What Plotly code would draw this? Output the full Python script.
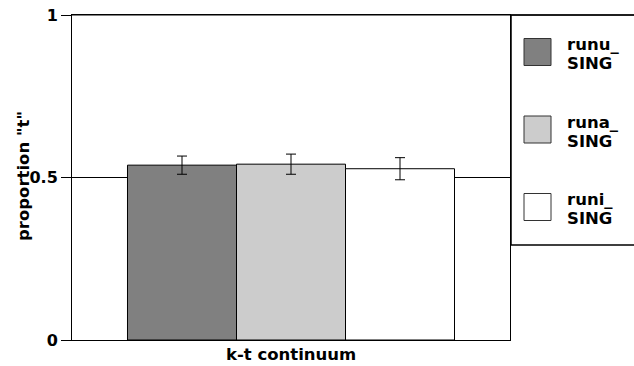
import plotly.graph_objects as go

categories = ["k-t continuum"]
series_names = ["runu_<br>SING", "runa_<br>SING", "runi_<br>SING"]
legend_line1 = ["runu_", "runa_", "runi_"]
legend_line2 = ["SING", "SING", "SING"]
series_values = [0.538, 0.541, 0.527]
series_errors = [0.028, 0.031, 0.034]
series_colors = ["#808080", "#cccccc", "#ffffff"]
y_tickvals = [0, 0.5, 1]
y_ticktext = ["0", "0.5", "1"]

W, H = 634, 366
ML, MR, MT, MB = 72, 124, 15, 26
PW = W - ML - MR
PH = H - MT - MB
FONT = "DejaVu Sans"
FS = 16.5

def px_x(x):
    return (x - ML) / PW

def px_y(y):
    return (H - MB - y) / PH

fig = go.Figure()
for name, v, e, c in zip(series_names, series_values, series_errors, series_colors):
    fig.add_trace(go.Bar(
        x=categories, y=[v], name=name,
        marker=dict(color=c, line=dict(color="#000000", width=1)),
        error_y=dict(type="data", array=[e], visible=True, color="#000000",
                     thickness=1, width=5),
        showlegend=False,
    ))

shapes = []
annotations = []
# legend box
shapes.append(dict(type="rect", xref="paper", yref="paper",
                   x0=px_x(511), x1=px_x(700), y0=px_y(245), y1=px_y(15),
                   line=dict(color="#000000", width=1.5), fillcolor="rgba(0,0,0,0)"))
for i in range(len(series_values)):
    cy = 52 + i * 77.5
    shapes.append(dict(type="rect", xref="paper", yref="paper",
                       x0=px_x(524), x1=px_x(551), y0=px_y(cy + 13.5), y1=px_y(cy - 13.5),
                       line=dict(color="#333333", width=1), fillcolor=series_colors[i]))
    for txt, base in ((legend_line1[i], cy - 1.5), (legend_line2[i], cy + 17.5)):
        annotations.append(dict(text="<b>%s</b>" % txt, xref="paper", yref="paper",
                                x=px_x(565), y=px_y(base - 0.36 * FS),
                                xanchor="left", yanchor="middle", showarrow=False,
                                font=dict(family=FONT, size=FS, color="#000000")))

# top line across to the right edge
shapes.append(dict(type="line", xref="paper", yref="paper",
                   x0=0, x1=px_x(700), y0=1, y1=1,
                   line=dict(color="#000000", width=1)))

annotations.append(dict(text="<b>k-t continuum</b>", xref="paper", yref="paper",
                        x=0.5, y=0, xanchor="center", yanchor="top", yshift=-3,
                        showarrow=False, font=dict(family=FONT, size=FS, color="#000000")))
annotations.append(dict(text='<b>proportion "t"</b>', xref="paper", yref="paper",
                        x=px_x(23), y=px_y(176), xanchor="center", yanchor="middle",
                        textangle=-90, showarrow=False,
                        font=dict(family=FONT, size=FS, color="#000000")))

fig.update_layout(
    width=W, height=H,
    margin=dict(l=ML, r=MR, t=MT, b=MB, pad=0, autoexpand=False),
    paper_bgcolor="#ffffff", plot_bgcolor="#ffffff",
    barmode="group", bargap=0.2534, bargroupgap=0,
    shapes=shapes, annotations=annotations,
    font=dict(family=FONT, size=FS, color="#000000"),
    xaxis=dict(showticklabels=False, ticks="", showgrid=False, zeroline=False,
               showline=True, linecolor="#000000", linewidth=1, mirror=True,
               fixedrange=True, automargin=False),
    yaxis=dict(range=[0, 1], tickvals=y_tickvals, ticktext=["<b>%s</b>" % t for t in y_ticktext],
               ticks="outside", ticklen=10, tickcolor="#000000", tickwidth=1,
               showgrid=True, gridcolor="#000000", gridwidth=1, zeroline=False,
               showline=True, linecolor="#000000", linewidth=1, mirror=True,
               tickfont=dict(family=FONT, size=16, color="#000000"), fixedrange=True,
               automargin=False),
)

fig.write_html("out.html", config={"displayModeBar": False})
